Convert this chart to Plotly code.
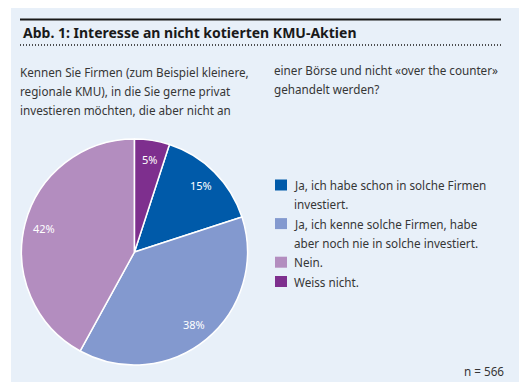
import math
import plotly.graph_objects as go

W, H = 531, 392

categories = [
    "Ja, ich habe schon in solche Firmen<br>investiert.",
    "Ja, ich kenne solche Firmen, habe<br>aber noch nie in solche investiert.",
    "Nein.",
    "Weiss nicht.",
]
values = [15, 38, 42, 5]
colors = ["#005AA9", "#8399CF", "#B38DBF", "#7E2F8E"]

title_text = "Abb. 1: Interesse an nicht kotierten KMU-Aktien"
question_left = ["Kennen Sie Firmen (zum Beispiel kleinere,",
                 "regionale KMU), in die Sie gerne privat",
                 "investieren möchten, die aber nicht an"]
question_right = ["einer Börse und nicht «over the counter»",
                  "gehandelt werden?"]
n_note = "n = 566"

FONT = "Noto Sans"
TXT = "#363636"
FS = 11.7

def px(x):
    return x / W

def py(y):
    return 1 - y / H

total = sum(values)
rotation = values[-1] / total * 360

# pie geometry (pixels)
CX, CY, R = 134.5, 252, 113

fig = go.Figure(go.Pie(
    labels=[c.replace("<br>", " ") for c in categories],
    values=values,
    sort=False,
    direction="clockwise",
    rotation=rotation,
    marker=dict(colors=colors, line=dict(color="white", width=1.5)),
    textinfo="none",
    hoverinfo="label+percent",
    showlegend=False,
    domain=dict(x=[px(CX - R), px(CX + R)], y=[py(CY + R), py(CY - R)]),
))

shapes = [
    dict(type="rect", xref="paper", yref="paper", x0=px(11), x1=px(519), y0=py(382), y1=py(8),
         fillcolor="#E8F0F9", line=dict(width=0), layer="below"),
    dict(type="line", xref="paper", yref="paper", x0=px(20), x1=px(501), y0=py(19.5), y1=py(19.5),
         line=dict(color="#1a1a1a", width=2)),
    dict(type="line", xref="paper", yref="paper", x0=px(20), x1=px(501), y0=py(45), y1=py(45),
         line=dict(color="#1a1a1a", width=1.5, dash="1px,2px")),
]

annotations = [
    dict(text="<b>" + title_text + "</b>", x=px(21), y=py(33), xref="paper", yref="paper",
         xanchor="left", yanchor="middle", showarrow=False,
         font=dict(family=FONT, size=14.0, color="#1a1a1a")),
    dict(text=n_note, x=px(506), y=py(371), xref="paper", yref="paper",
         xanchor="right", yanchor="middle", showarrow=False,
         font=dict(family=FONT, size=FS, color=TXT)),
]
for i, line in enumerate(question_left):
    annotations.append(dict(text=line, x=px(18), y=py(72 + 19 * i), xref="paper", yref="paper",
                            xanchor="left", yanchor="middle", showarrow=False,
                            font=dict(family=FONT, size=FS, color=TXT)))
for i, line in enumerate(question_right):
    annotations.append(dict(text=line, x=px(272), y=py(70 + 19 * i), xref="paper", yref="paper",
                            xanchor="left", yanchor="middle", showarrow=False,
                            font=dict(family=FONT, size=FS, color=TXT)))

# slice percentage labels, placed along each slice's mid-angle
start = rotation
for v in values:
    mid = start + v / total * 360 / 2
    start += v / total * 360
    a = math.radians(mid)
    rr = 0.83 * R
    lx = CX + rr * math.sin(a)
    ly = CY - rr * math.cos(a)
    annotations.append(dict(text=f"{round(v / total * 100)}%", x=px(lx), y=py(ly),
                            xref="paper", yref="paper", xanchor="center", yanchor="middle",
                            showarrow=False, font=dict(family=FONT, size=11, color="white")))

# custom legend
LX = 275
y = 185
for cat, col in zip(categories, colors):
    lines = cat.split("<br>")
    shapes.append(dict(type="rect", xref="paper", yref="paper",
                       x0=px(LX), x1=px(LX + 12), y0=py(y + 5.5), y1=py(y - 5.5),
                       fillcolor=col, line=dict(width=0)))
    for j, ln in enumerate(lines):
        annotations.append(dict(text=ln, x=px(LX + 17), y=py(y + 19.3 * j), xref="paper", yref="paper",
                                xanchor="left", yanchor="middle", showarrow=False,
                                font=dict(family=FONT, size=FS, color=TXT)))
    y += 19.3 * len(lines)

fig.update_layout(
    width=W, height=H,
    margin=dict(l=0, r=0, t=0, b=0),
    paper_bgcolor="white",
    plot_bgcolor="white",
    shapes=shapes,
    annotations=annotations,
)

fig.write_html("out.html", config={"displayModeBar": False})
with open("out.html", encoding="utf-8") as f:
    html = f.read()
html = html.replace("<head>", "<head><style>html,body{margin:0;padding:0;overflow:hidden;}</style>", 1)
with open("out.html", "w", encoding="utf-8") as f:
    f.write(html)
